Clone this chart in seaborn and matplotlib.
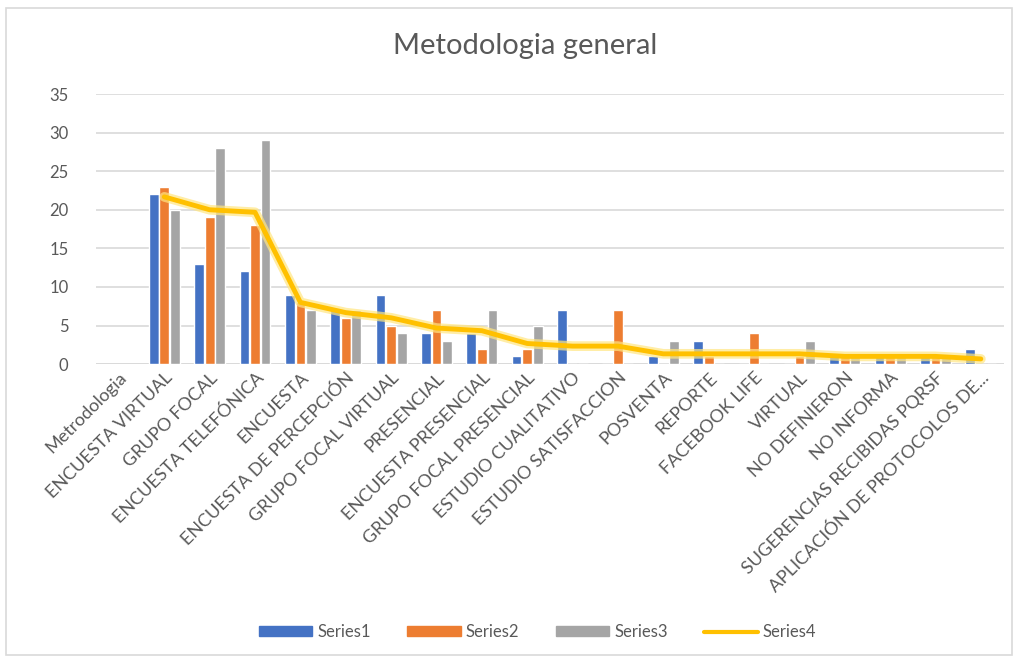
import numpy as np
import pandas as pd
import seaborn as sns
import matplotlib.pyplot as plt
from matplotlib.patches import Patch, Rectangle
from matplotlib.lines import Line2D

categorias = [
    "Metrodologia", "ENCUESTA VIRTUAL", "GRUPO FOCAL", "ENCUESTA TELEFÓNICA",
    "ENCUESTA", "ENCUESTA DE PERCEPCIÓN", "GRUPO FOCAL VIRTUAL", "PRESENCIAL",
    "ENCUESTA PRESENCIAL", "GRUPO FOCAL PRESENCIAL", "ESTUDIO CUALITATIVO",
    "ESTUDIO SATISFACCION", "POSVENTA", "REPORTE", "FACEBOOK LIFE", "VIRTUAL",
    "NO DEFINIERON", "NO INFORMA", "SUGERENCIAS RECIBIDAS PQRSF",
    "APLICACIÓN DE PROTOCOLOS DE...",
]
series1 = [np.nan, 22, 13, 12, 9, 7, 9, 4, 4, 1, 7, 0, 1, 3, 0, 0, 1, 1, 1, 2]
series2 = [np.nan, 23, 19, 18, 8, 6, 5, 7, 2, 2, 0, 7, 0, 1, 4, 1, 1, 1, 1, 0]
series3 = [np.nan, 20, 28, 29, 7, 7, 4, 3, 7, 5, 0, 0, 3, 0, 0, 3, 1, 1, 1, 0]
series4 = [np.nan, 21.67, 20, 19.67, 8, 6.67, 6, 4.67, 4.33, 2.67, 2.33, 2.33,
           1.33, 1.33, 1.33, 1.33, 1, 1, 1, 0.67]

colores = {"Series1": "#4472C4", "Series2": "#ED7D31", "Series3": "#A5A5A5"}
amarillo = "#FFC000"

df = pd.DataFrame({"Metodologia": categorias, "Series1": series1,
                   "Series2": series2, "Series3": series3})
largo = df.melt(id_vars="Metodologia", var_name="Serie", value_name="Valor")

sns.set_style("white")
plt.rcParams["font.family"] = ["Lato", "DejaVu Sans"]
gris_txt = "#595959"

fig = plt.figure(figsize=(10.24, 6.62), dpi=100)
ax = fig.add_axes([0.094, 0.450, 0.886, 0.408])

sns.barplot(data=largo, x="Metodologia", y="Valor", hue="Serie",
            order=categorias, palette=colores, width=0.7, gap=0.08,
            ax=ax, legend=False, saturation=1)

# Series4 con un halo claro debajo
x = np.arange(len(categorias))
ax.plot(x, series4, color="#FFE680", lw=7, alpha=0.7, solid_capstyle="round", zorder=3)
sns.lineplot(x=x, y=series4, color=amarillo, lw=3.5, ax=ax, zorder=4)

ax.set_ylim(0, 35)
ax.set_xlim(-0.5, len(categorias) - 0.5)
ax.set_yticks(np.arange(0, 36, 5))
ax.yaxis.grid(True, color="#D9D9D9", lw=1.2)
ax.set_axisbelow(True)
for s in ax.spines.values():
    s.set_visible(False)
ax.axhline(0, color="#D9D9D9", lw=1.2, zorder=0)
ax.set_xlabel("")
ax.set_ylabel("")
ax.set_xticks(x)
ax.set_xticklabels(categorias, rotation=45, ha="right", rotation_mode="anchor",
                   fontsize=13, color=gris_txt)
ax.tick_params(axis="x", length=0, pad=4)
ax.tick_params(axis="y", length=0, labelsize=12, labelcolor=gris_txt, pad=20)

fig.text(0.513, 0.93, "Metodologia general", ha="center", va="center",
         fontsize=21, color=gris_txt)

handles = [Patch(color=colores[k]) for k in ["Series1", "Series2", "Series3"]]
handles.append(Line2D([0], [0], color=amarillo, lw=3))
fig.legend(handles, ["Series1", "Series2", "Series3", "Series4"],
           loc="center", bbox_to_anchor=(0.525, 0.045), ncol=4, frameon=False,
           fontsize=12, labelcolor=gris_txt, handlelength=3.2, handleheight=0.55,
           handletextpad=0.3, columnspacing=2.2)

fig.patches.append(Rectangle((0.006, 0.01), 0.982, 0.978, transform=fig.transFigure,
                             fill=False, edgecolor="#D9D9D9", lw=1.2))

fig.savefig("out.png", dpi=100)
